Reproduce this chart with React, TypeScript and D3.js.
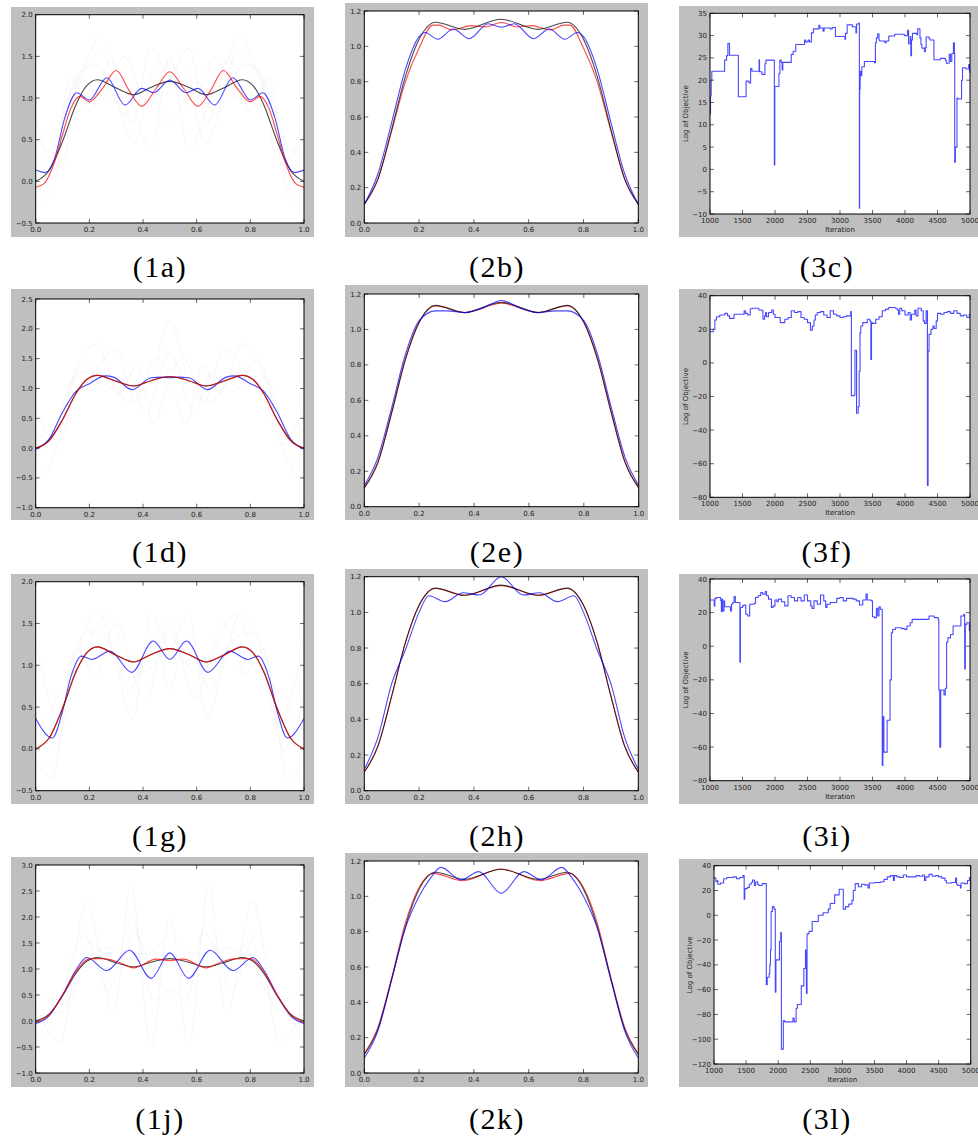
import React from "react";
import * as d3 from "d3";

type Pt = [number, number];

// ---------- Column 1: fitted profiles on [0, 1] ----------
const target1: Pt[] = [[0,0],[0.05,0.13],[0.1,0.48],[0.15,0.92],[0.19,1.15],[0.23,1.22],[0.3,1.12],[0.365,1.04],[0.43,1.13],[0.5,1.2],[0.57,1.13],[0.635,1.04],[0.7,1.12],[0.77,1.22],[0.81,1.15],[0.85,0.92],[0.9,0.48],[0.95,0.13],[1,0]];

const red1a: Pt[] = [[0,-0.07],[0.03,-0.03],[0.075,0.28],[0.1,0.56],[0.13,0.87],[0.165,1.02],[0.2,0.955],[0.25,1.12],[0.3,1.33],[0.35,1.08],[0.395,0.9],[0.45,1.12],[0.5,1.315],[0.55,1.12],[0.605,0.9],[0.65,1.08],[0.7,1.33],[0.75,1.12],[0.8,0.955],[0.835,1.02],[0.87,0.87],[0.9,0.56],[0.925,0.28],[0.97,-0.03],[1,-0.07]];
const blue1a: Pt[] = [[0,0.135],[0.035,0.105],[0.07,0.27],[0.11,0.78],[0.153,1.064],[0.2,0.976],[0.265,1.244],[0.333,0.916],[0.395,1.116],[0.44,1.064],[0.5,1.216],[0.56,1.064],[0.605,1.116],[0.667,0.916],[0.735,1.244],[0.8,0.976],[0.847,1.064],[0.89,0.78],[0.93,0.27],[0.965,0.105],[1,0.135]];
const faint1a: Pt[][] = [
  [[0,0.75],[0.05,0.35],[0.12,1.0],[0.17,1.3],[0.24,1.75],[0.31,1.2],[0.36,0.7],[0.43,1.6],[0.5,1.25],[0.57,1.6],[0.64,0.7],[0.69,1.2],[0.76,1.75],[0.83,1.3],[0.88,1.0],[0.95,0.35],[1,0.75]],
  [[0,-0.3],[0.06,-0.15],[0.13,1.25],[0.2,0.85],[0.28,1.45],[0.36,0.9],[0.43,0.38],[0.5,1.5],[0.57,0.38],[0.64,0.9],[0.72,1.45],[0.8,0.85],[0.87,1.25],[0.94,-0.15],[1,-0.3]],
  [[0,0.3],[0.07,0.05],[0.14,1.2],[0.22,1.4],[0.3,0.95],[0.37,0.45],[0.44,1.35],[0.5,1.1],[0.56,1.35],[0.63,0.45],[0.7,0.95],[0.78,1.4],[0.86,1.2],[0.93,0.05],[1,0.3]],
  [[0,0],[0.08,0.3],[0.15,1.1],[0.25,1.55],[0.33,0.8],[0.4,1.2],[0.5,0.7],[0.6,1.2],[0.67,0.8],[0.75,1.55],[0.85,1.1],[0.92,0.3],[1,0]],
  [[0,0.5],[0.1,0.2],[0.16,1.25],[0.26,1.0],[0.33,1.5],[0.42,0.9],[0.5,1.45],[0.58,0.9],[0.67,1.5],[0.74,1.0],[0.84,1.25],[0.9,0.2],[1,0.5]],
];

const red1d: Pt[] = [[0,0],[0.05,0.12],[0.1,0.47],[0.15,0.91],[0.19,1.15],[0.23,1.22],[0.3,1.12],[0.365,1.04],[0.43,1.13],[0.5,1.2],[0.57,1.13],[0.635,1.04],[0.7,1.12],[0.77,1.22],[0.81,1.15],[0.85,0.91],[0.9,0.47],[0.95,0.12],[1,0]];
const blue1d: Pt[] = [[0,-0.02],[0.05,0.15],[0.1,0.6],[0.15,0.95],[0.2,1.08],[0.26,1.21],[0.29,1.19],[0.36,0.98],[0.43,1.18],[0.47,1.19],[0.5,1.18],[0.53,1.19],[0.57,1.18],[0.64,0.98],[0.71,1.19],[0.74,1.21],[0.8,1.08],[0.85,0.95],[0.9,0.6],[0.95,0.15],[1,-0.02]];
const faint1d: Pt[][] = [
  [[0,0.7],[0.06,0.2],[0.13,1.1],[0.2,1.3],[0.27,1.2],[0.35,0.75],[0.42,1.0],[0.5,2.15],[0.58,1.0],[0.65,0.75],[0.73,1.2],[0.8,1.3],[0.87,1.1],[0.94,0.2],[1,0.7]],
  [[0,-0.6],[0.07,-0.1],[0.14,1.2],[0.23,1.75],[0.31,0.9],[0.38,1.4],[0.44,0.4],[0.5,1.1],[0.56,0.4],[0.62,1.4],[0.69,0.9],[0.77,1.75],[0.86,1.2],[0.93,-0.1],[1,-0.6]],
  [[0,0.3],[0.08,0.05],[0.15,0.9],[0.22,1.3],[0.3,1.65],[0.37,0.8],[0.45,1.5],[0.5,1.3],[0.55,1.5],[0.63,0.8],[0.7,1.65],[0.78,1.3],[0.85,0.9],[0.92,0.05],[1,0.3]],
  [[0,-0.2],[0.1,0.6],[0.18,1.45],[0.26,0.95],[0.34,1.3],[0.41,0.6],[0.5,1.6],[0.59,0.6],[0.66,1.3],[0.74,0.95],[0.82,1.45],[0.9,0.6],[1,-0.2]],
];

const red1g: Pt[] = [[0,0],[0.05,0.13],[0.1,0.49],[0.15,0.93],[0.19,1.15],[0.23,1.22],[0.3,1.12],[0.365,1.04],[0.43,1.13],[0.5,1.2],[0.57,1.13],[0.635,1.04],[0.7,1.12],[0.77,1.22],[0.81,1.15],[0.85,0.93],[0.9,0.49],[0.95,0.13],[1,0]];
const blue1g: Pt[] = [[0,0.364],[0.062,0.13],[0.1,0.45],[0.13,0.85],[0.171,1.11],[0.209,1.07],[0.277,1.17],[0.358,0.915],[0.438,1.29],[0.5,1.07],[0.562,1.29],[0.642,0.915],[0.723,1.17],[0.791,1.07],[0.829,1.11],[0.87,0.85],[0.9,0.45],[0.938,0.13],[1,0.364]];
const faint1g: Pt[][] = [
  [[0,1.3],[0.05,0.6],[0.1,0.3],[0.17,1.3],[0.23,1.65],[0.3,1.0],[0.36,0.35],[0.43,1.6],[0.5,1.2],[0.57,1.6],[0.64,0.35],[0.7,1.0],[0.77,1.65],[0.83,1.3],[0.9,0.3],[0.95,0.6],[1,1.3]],
  [[0,-0.1],[0.06,-0.35],[0.13,1.0],[0.2,1.4],[0.28,1.25],[0.35,0.7],[0.44,1.35],[0.5,0.7],[0.56,1.35],[0.65,0.7],[0.72,1.25],[0.8,1.4],[0.87,1.0],[0.94,-0.35],[1,-0.1]],
  [[0,0.6],[0.08,0],[0.15,1.2],[0.22,0.9],[0.3,1.5],[0.38,0.9],[0.46,1.1],[0.5,1.45],[0.54,1.1],[0.62,0.9],[0.7,1.5],[0.78,0.9],[0.85,1.2],[0.92,0],[1,0.6]],
  [[0,0.2],[0.1,0.7],[0.18,1.1],[0.26,1.6],[0.33,1.2],[0.41,0.6],[0.5,1.55],[0.59,0.6],[0.67,1.2],[0.74,1.6],[0.82,1.1],[0.9,0.7],[1,0.2]],
];

const red1j: Pt[] = [[0,-0.03],[0.05,0.12],[0.1,0.5],[0.15,0.95],[0.2,1.2],[0.25,1.2],[0.3,1.15],[0.365,1.02],[0.45,1.19],[0.5,1.16],[0.55,1.19],[0.635,1.02],[0.7,1.15],[0.75,1.2],[0.8,1.2],[0.85,0.95],[0.9,0.5],[0.95,0.12],[1,-0.03]];
const blue1j: Pt[] = [[0,-0.05],[0.05,0.1],[0.1,0.5],[0.15,0.98],[0.19,1.22],[0.265,0.97],[0.35,1.36],[0.43,0.82],[0.5,1.31],[0.57,0.82],[0.65,1.36],[0.735,0.97],[0.81,1.22],[0.85,0.98],[0.9,0.5],[0.95,0.1],[1,-0.05]];
const faint1j: Pt[][] = [
  [[0,0.3],[0.09,-0.4],[0.19,2.3],[0.29,0.15],[0.355,2.6],[0.43,-0.5],[0.5,2.0],[0.57,-0.5],[0.645,2.6],[0.71,0.15],[0.81,2.3],[0.91,-0.4],[1,0.3]],
  [[0,-0.35],[0.08,0.3],[0.18,1.65],[0.27,0.6],[0.36,1.95],[0.44,0.4],[0.5,0.6],[0.56,0.4],[0.64,1.95],[0.73,0.6],[0.82,1.65],[0.92,0.3],[1,-0.35]],
  [[0,0.1],[0.1,0.2],[0.2,1.5],[0.3,1.1],[0.37,1.7],[0.45,0.9],[0.5,1.4],[0.55,0.9],[0.63,1.7],[0.7,1.1],[0.8,1.5],[0.9,0.2],[1,0.1]],
  [[0,0.5],[0.12,0.4],[0.2,1.25],[0.28,1.4],[0.36,1.3],[0.42,1.3],[0.5,1.6],[0.58,1.3],[0.64,1.3],[0.72,1.4],[0.8,1.25],[0.88,0.4],[1,0.5]],
];

// ---------- Column 2: smoothed profiles ----------
const target2: Pt[] = [[0,0.105],[0.05,0.25],[0.1,0.53],[0.15,0.83],[0.2,1.04],[0.26,1.136],[0.365,1.096],[0.5,1.153],[0.635,1.096],[0.74,1.136],[0.8,1.04],[0.85,0.83],[0.9,0.53],[0.95,0.25],[1,0.105]];

const red2b: Pt[] = [[0,0.11],[0.05,0.25],[0.1,0.52],[0.15,0.8],[0.2,0.99],[0.25,1.12],[0.27,1.12],[0.32,1.093],[0.39,1.117],[0.44,1.11],[0.5,1.135],[0.56,1.11],[0.61,1.117],[0.68,1.093],[0.73,1.12],[0.75,1.12],[0.8,0.99],[0.85,0.8],[0.9,0.52],[0.95,0.25],[1,0.11]];
const blue2b: Pt[] = [[0,0.105],[0.05,0.28],[0.1,0.57],[0.15,0.87],[0.2,1.055],[0.222,1.078],[0.268,1.04],[0.325,1.098],[0.383,1.043],[0.452,1.128],[0.5,1.108],[0.548,1.128],[0.617,1.043],[0.675,1.098],[0.732,1.04],[0.778,1.078],[0.8,1.055],[0.85,0.87],[0.9,0.57],[0.95,0.28],[1,0.105]];

const red2e: Pt[] = [[0,0.11],[0.05,0.255],[0.1,0.535],[0.15,0.835],[0.2,1.04],[0.26,1.132],[0.365,1.095],[0.5,1.148],[0.635,1.095],[0.74,1.132],[0.8,1.04],[0.85,0.835],[0.9,0.535],[0.95,0.255],[1,0.11]];
const blue2e: Pt[] = [[0,0.12],[0.05,0.28],[0.1,0.56],[0.15,0.86],[0.2,1.05],[0.26,1.105],[0.3,1.105],[0.37,1.095],[0.43,1.12],[0.5,1.163],[0.57,1.12],[0.63,1.095],[0.7,1.105],[0.74,1.105],[0.8,1.05],[0.85,0.86],[0.9,0.56],[0.95,0.28],[1,0.12]];

const red2h: Pt[] = [[0,0.105],[0.05,0.252],[0.1,0.532],[0.15,0.832],[0.2,1.04],[0.26,1.134],[0.365,1.096],[0.5,1.15],[0.635,1.096],[0.74,1.134],[0.8,1.04],[0.85,0.832],[0.9,0.532],[0.95,0.252],[1,0.105]];
const blue2h: Pt[] = [[0,0.12],[0.05,0.3],[0.1,0.6],[0.15,0.79],[0.2,1.0],[0.235,1.093],[0.295,1.06],[0.36,1.11],[0.42,1.097],[0.5,1.2],[0.58,1.097],[0.64,1.11],[0.705,1.06],[0.765,1.093],[0.8,1.0],[0.85,0.79],[0.9,0.6],[0.95,0.3],[1,0.12]];

const red2k: Pt[] = [[0,0.11],[0.05,0.26],[0.1,0.54],[0.15,0.85],[0.2,1.05],[0.25,1.13],[0.36,1.088],[0.5,1.155],[0.64,1.088],[0.75,1.13],[0.8,1.05],[0.85,0.85],[0.9,0.54],[0.95,0.26],[1,0.11]];
const blue2k: Pt[] = [[0,0.085],[0.05,0.24],[0.1,0.53],[0.15,0.82],[0.2,1.0],[0.24,1.1],[0.28,1.164],[0.353,1.093],[0.418,1.14],[0.5,1.017],[0.582,1.14],[0.647,1.093],[0.72,1.164],[0.76,1.1],[0.8,1.0],[0.85,0.82],[0.9,0.53],[0.95,0.24],[1,0.085]];

// ---------- Column 3: log objective per iteration (step traces) ----------
const obj3c: Pt[] = [[1000,12.5],[1008,16.5],[1018,20],[1028,22],[1225,24.5],[1255,25.5],[1275,28.3],[1300,25.6],[1436,16.3],[1555,19.8],[1600,19.4],[1625,22.6],[1645,22],[1755,24.6],[1762,21.9],[1800,21.3],[1845,23.7],[1860,24.5],[1990,1],[1997,18.6],[2060,21.5],[2075,24.5],[2095,24],[2110,22.3],[2120,24],[2250,25.8],[2280,26.5],[2320,28],[2455,29],[2470,28.6],[2510,29],[2530,28.6],[2560,30.6],[2590,31.5],[2675,32.3],[2690,31.7],[2740,31],[2755,31.7],[2850,31.5],[2880,31.8],[2930,29.8],[3075,29.2],[3085,30.5],[3110,32.4],[3190,32],[3245,30.6],[3255,32.6],[3290,32.8],[3298,-8.7],[3302,18],[3310,22],[3320,21],[3335,23],[3375,24.2],[3530,23.9],[3545,28.4],[3560,29.5],[3580,30.4],[3600,29],[3610,28.8],[3690,28.4],[3710,28.8],[3750,29.9],[3840,30.3],[3990,30],[4040,31.2],[4055,28.2],[4080,29.8],[4090,25.5],[4100,29],[4115,30.5],[4180,30.2],[4195,31.5],[4230,29.5],[4245,28],[4260,27.2],[4300,26.4],[4312,27.3],[4325,29.7],[4370,29.3],[4385,29],[4445,24.6],[4545,24.9],[4620,24.5],[4635,23.8],[4680,25.8],[4700,24.2],[4720,26],[4745,28.4],[4760,26],[4765,1.6],[4775,5],[4800,16],[4815,15.8],[4870,20],[4885,22.8],[4940,22.5],[4980,23.5],[4995,21.8],[5000,21.8]];
const obj3f: Pt[] = [[1000,18.5],[1050,20],[1075,25.5],[1100,27.5],[1150,28.5],[1230,29.5],[1270,28],[1300,26.5],[1370,29],[1525,31],[1545,29.5],[1580,28.5],[1620,32.2],[1650,32.5],[1750,31.5],[1800,31],[1815,26],[1840,28],[1855,30],[1870,27.5],[1900,30],[1950,31.5],[1975,29],[2000,27],[2080,24],[2150,26],[2200,27],[2250,31],[2300,30],[2350,30.5],[2400,27],[2450,26],[2500,24],[2545,19.5],[2575,22],[2600,25.5],[2620,28.5],[2650,30],[2700,30.5],[2750,28.5],[2800,27],[2850,31],[2900,29],[2950,28],[3000,27],[3050,27.5],[3100,28],[3165,30.5],[3175,-19.5],[3220,-19],[3230,7.5],[3255,-30],[3280,-26],[3295,-5],[3308,18],[3320,22],[3350,24],[3420,26],[3460,25],[3475,2],[3485,24],[3500,23.5],[3550,26],[3600,27.5],[3650,31],[3700,32],[3750,33],[3850,32.5],[3880,31.5],[3900,29],[3920,32.5],[3950,31],[4000,28.5],[4050,30],[4080,25.5],[4100,29],[4150,31.5],[4170,28],[4200,32.5],[4250,31],[4280,25],[4300,23.5],[4325,31],[4345,-73],[4355,7],[4370,17],[4400,20],[4430,22],[4450,20.5],[4480,25],[4500,29.5],[4550,29],[4600,30],[4650,30.5],[4700,29.5],[4750,31],[4800,29.5],[4850,28],[4900,28.5],[4950,27],[4990,29],[5000,28]];
const obj3i: Pt[] = [[1000,27.5],[1065,24],[1075,28.5],[1100,29],[1165,27],[1175,20.5],[1185,28],[1195,21],[1215,27],[1225,23.5],[1300,23.5],[1315,21],[1330,25],[1350,26],[1370,29.5],[1390,26],[1460,-9.5],[1468,23],[1500,24],[1520,24.5],[1550,19],[1580,18],[1610,25],[1680,25.5],[1700,29],[1740,30],[1780,32],[1810,31],[1850,32.5],[1870,30],[1900,28],[1945,23],[1970,24],[2000,27.5],[2030,26.5],[2050,28],[2100,26.5],[2150,24],[2200,30],[2250,29],[2300,27],[2350,29],[2400,27],[2450,30.5],[2500,27],[2550,24],[2570,22.5],[2600,27],[2650,25],[2700,30.5],[2750,27],[2780,23],[2800,25],[2850,26],[2950,28.5],[3000,29],[3050,27],[3100,28.5],[3200,28],[3250,27],[3300,24.5],[3350,27.5],[3400,31],[3420,27.5],[3480,27],[3500,17.5],[3530,17],[3560,22.5],[3580,18],[3600,23.5],[3620,22],[3650,-71],[3660,-42],[3675,-63],[3725,-44],[3770,-20],[3790,8],[3810,10],[3850,11],[3950,10.5],[4000,10],[4030,12],[4080,14],[4110,16],[4350,16],[4370,18],[4450,17],[4510,16],[4520,-26],[4535,-60],[4550,-26],[4600,-29],[4620,-25],[4640,2.5],[4660,5],[4700,7],[4740,12],[4850,12],[4860,18],[4905,19],[4918,-13.5],[4928,13],[4950,14],[4990,9.5],[5000,14]];
const obj3l: Pt[] = [[1000,30],[1030,27],[1050,28],[1060,25],[1100,26],[1150,29.5],[1200,30.5],[1300,31],[1350,29.5],[1400,30.5],[1450,32],[1470,13],[1480,21.5],[1520,22.5],[1550,25],[1580,26.5],[1600,28.5],[1630,24],[1650,27],[1680,25],[1700,24],[1750,25.5],[1815,-56],[1830,-50],[1860,-47],[1870,-40],[1880,-28],[1890,3],[1910,7],[1935,5],[1955,-62],[1965,-36],[2020,-21],[2040,-14],[2050,-108],[2080,-85],[2100,-86],[2230,-83],[2250,-86],[2280,-75],[2300,-72],[2360,-57],[2400,-43],[2425,-28],[2440,-63],[2450,-15],[2480,-13],[2530,-5],[2625,0],[2700,2],[2780,5],[2810,9.5],[2880,16.5],[2950,21],[3015,5],[3050,7],[3100,9],[3150,12],[3170,20],[3200,25.5],[3250,23],[3300,25],[3350,24.5],[3400,22],[3420,26],[3500,26.5],[3600,27],[3650,29],[3700,31],[3750,32],[3795,28],[3810,32],[3850,31],[3900,30.5],[3950,32.5],[4000,31],[4100,31],[4150,32],[4200,31.5],[4250,32.5],[4280,28],[4300,31],[4350,33],[4400,31.5],[4450,32],[4500,31],[4550,30],[4600,28],[4620,26],[4700,26.5],[4765,30],[4780,25],[4800,24],[4840,22],[4850,26],[4900,25.5],[4950,28],[4980,30.5],[4995,20],[5000,20]];

// ---------- Tick values ----------
const ticksUnit = [0, 0.2, 0.4, 0.6, 0.8, 1.0];
const ticksY1a = [-0.5, 0, 0.5, 1.0, 1.5, 2.0];
const ticksY1d = [-1.0, -0.5, 0, 0.5, 1.0, 1.5, 2.0, 2.5];
const ticksY1g = [-0.5, 0, 0.5, 1.0, 1.5, 2.0];
const ticksY1j = [-1.0, -0.5, 0, 0.5, 1.0, 1.5, 2.0, 2.5, 3.0];
const ticksY2 = [0, 0.2, 0.4, 0.6, 0.8, 1.0, 1.2];
const ticksIter = [1000, 1500, 2000, 2500, 3000, 3500, 4000, 4500, 5000];
const ticksY3c = [-10, -5, 0, 5, 10, 15, 20, 25, 30, 35];
const ticksY3f = [-80, -60, -40, -20, 0, 20, 40];
const ticksY3i = [-80, -60, -40, -20, 0, 20, 40];
const ticksY3l = [-120, -100, -80, -60, -40, -20, 0, 20, 40];

const captions = ["(1a)", "(2b)", "(3c)", "(1d)", "(2e)", "(3f)", "(1g)", "(2h)", "(3i)", "(1j)", "(2k)", "(3l)"];

// ---------- Styling / layout ----------
const GRAY = "#bfbfbf";
const BLUE = "#0000ff";
const RED = "#ff0000";
const BLACK = "#000000";

type Series = { pts: Pt[]; color: string; opacity: number; width: number; step?: boolean };
type PanelDef = {
  caption: string;
  box: [number, number, number, number];
  plot: [number, number, number, number];
  xDomain: [number, number];
  yDomain: [number, number];
  xTicks: number[];
  yTicks: number[];
  kind: "profile" | "trace";
  series: Series[];
  capX: number;
  capY: number;
};

const faintSeries = (list: Pt[][]): Series[] =>
  list.map((pts) => ({ pts, color: "#000", opacity: 0.028, width: 1.2 }));
const main = (pts: Pt[], color: string): Series => ({ pts, color, opacity: 0.72, width: 1.1 });
const trace = (pts: Pt[]): Series => ({ pts, color: BLUE, opacity: 0.72, width: 1.1, step: true });

const capCenters = [160, 497, 827];

const panels: PanelDef[] = [
  // row 1
  { caption: captions[0], box: [11, 7, 314, 237], plot: [35.7, 14.7, 304, 223], xDomain: [0, 1], yDomain: [-0.5, 2.0], xTicks: ticksUnit, yTicks: ticksY1a, kind: "profile",
    series: [...faintSeries(faint1a), main(target1, BLACK), main(blue1a, BLUE), main(red1a, RED)], capX: capCenters[0], capY: 277 },
  { caption: captions[1], box: [345, 3, 648, 237], plot: [364.3, 11, 638.3, 223], xDomain: [0, 1], yDomain: [0, 1.2], xTicks: ticksUnit, yTicks: ticksY2, kind: "profile",
    series: [main(red2b, RED), main(target2, BLACK), main(blue2b, BLUE)], capX: capCenters[1], capY: 277 },
  { caption: captions[2], box: [679, 6, 980, 237], plot: [710, 13.3, 970, 214], xDomain: [1000, 5000], yDomain: [-10, 35], xTicks: ticksIter, yTicks: ticksY3c, kind: "trace",
    series: [trace(obj3c)], capX: capCenters[2], capY: 277 },
  // row 2
  { caption: captions[3], box: [11, 289, 314, 520], plot: [35.7, 299, 304, 507.7], xDomain: [0, 1], yDomain: [-1.0, 2.5], xTicks: ticksUnit, yTicks: ticksY1d, kind: "profile",
    series: [...faintSeries(faint1d), main(blue1d, BLUE), main(target1, BLACK), main(red1d, RED)], capX: capCenters[0], capY: 562 },
  { caption: captions[4], box: [345, 285, 648, 520], plot: [364.3, 294, 638.7, 506.7], xDomain: [0, 1], yDomain: [0, 1.2], xTicks: ticksUnit, yTicks: ticksY2, kind: "profile",
    series: [main(red2e, RED), main(target2, BLACK), main(blue2e, BLUE)], capX: capCenters[1], capY: 562 },
  { caption: captions[5], box: [679, 289, 980, 520], plot: [710, 295.7, 970, 497.3], xDomain: [1000, 5000], yDomain: [-80, 40], xTicks: ticksIter, yTicks: ticksY3f, kind: "trace",
    series: [trace(obj3f)], capX: capCenters[2], capY: 562 },
  // row 3
  { caption: captions[6], box: [11, 574, 314, 804], plot: [35.7, 581.7, 304, 790.7], xDomain: [0, 1], yDomain: [-0.5, 2.0], xTicks: ticksUnit, yTicks: ticksY1g, kind: "profile",
    series: [...faintSeries(faint1g), main(blue1g, BLUE), main(target1, BLACK), main(red1g, RED)], capX: capCenters[0], capY: 846 },
  { caption: captions[7], box: [345, 569, 648, 804], plot: [364.3, 576.7, 638.3, 790.7], xDomain: [0, 1], yDomain: [0, 1.2], xTicks: ticksUnit, yTicks: ticksY2, kind: "profile",
    series: [main(red2h, RED), main(target2, BLACK), main(blue2h, BLUE)], capX: capCenters[1], capY: 846 },
  { caption: captions[8], box: [679, 574, 980, 804], plot: [710, 579, 970, 780.7], xDomain: [1000, 5000], yDomain: [-80, 40], xTicks: ticksIter, yTicks: ticksY3i, kind: "trace",
    series: [trace(obj3i)], capX: capCenters[2], capY: 846 },
  // row 4
  { caption: captions[9], box: [11, 857, 314, 1087], plot: [35.7, 865, 304, 1073], xDomain: [0, 1], yDomain: [-1.0, 3.0], xTicks: ticksUnit, yTicks: ticksY1j, kind: "profile",
    series: [...faintSeries(faint1j), main(target1, BLACK), main(blue1j, BLUE), main(red1j, RED)], capX: capCenters[0], capY: 1129 },
  { caption: captions[10], box: [345, 853, 648, 1087], plot: [364.3, 861, 638.3, 1073], xDomain: [0, 1], yDomain: [0, 1.2], xTicks: ticksUnit, yTicks: ticksY2, kind: "profile",
    series: [main(red2k, RED), main(target2, BLACK), main(blue2k, BLUE)], capX: capCenters[1], capY: 1129 },
  { caption: captions[11], box: [679, 859, 980, 1087], plot: [714, 865.7, 970.7, 1064], xDomain: [1000, 5000], yDomain: [-120, 40], xTicks: ticksIter, yTicks: ticksY3l, kind: "trace",
    series: [trace(obj3l)], capX: capCenters[2], capY: 1129 },
];

const fmtDec = d3.format(".1f");
const fmtInt = d3.format("d");
const TICK_FONT = "'DejaVu Sans', 'Bitstream Vera Sans', sans-serif";

function Panel({ p, idx }: { p: PanelDef; idx: number }) {
  const [x0, y0, x1, y1] = p.plot;
  const x = d3.scaleLinear().domain(p.xDomain).range([x0, x1]);
  const y = d3.scaleLinear().domain(p.yDomain).range([y1, y0]);
  const fmt = p.kind === "trace" ? fmtInt : fmtDec;
  const clipId = `clip-${idx}`;
  const tickLen = 4;

  const smooth = d3.line<Pt>().x((d) => x(d[0])).y((d) => y(d[1])).curve(d3.curveMonotoneX);
  const stepped = d3.line<Pt>().x((d) => x(d[0])).y((d) => y(d[1])).curve(d3.curveStepAfter);

  return (
    <g>
      <rect x={p.box[0]} y={p.box[1]} width={p.box[2] - p.box[0]} height={p.box[3] - p.box[1]} fill={GRAY} />
      <rect x={x0} y={y0} width={x1 - x0} height={y1 - y0} fill="#fff" />
      <clipPath id={clipId}>
        <rect x={x0} y={y0} width={x1 - x0} height={y1 - y0} />
      </clipPath>
      <g clipPath={`url(#${clipId})`}>
        {p.series.map((s, i) => (
          <path
            key={i}
            d={(s.step ? stepped : smooth)(s.pts) || ""}
            fill="none"
            stroke={s.color}
            strokeOpacity={s.opacity}
            strokeWidth={s.width}
            strokeLinejoin="round"
          />
        ))}
      </g>
      {/* inward ticks on all four sides */}
      <g stroke="#000" strokeWidth={0.6}>
        {p.xTicks.map((t) => (
          <g key={`xt${t}`}>
            <line x1={x(t)} x2={x(t)} y1={y1} y2={y1 - tickLen} />
            <line x1={x(t)} x2={x(t)} y1={y0} y2={y0 + tickLen} />
          </g>
        ))}
        {p.yTicks.map((t) => (
          <g key={`yt${t}`}>
            <line x1={x0} x2={x0 + tickLen} y1={y(t)} y2={y(t)} />
            <line x1={x1} x2={x1 - tickLen} y1={y(t)} y2={y(t)} />
          </g>
        ))}
      </g>
      <rect x={x0} y={y0} width={x1 - x0} height={y1 - y0} fill="none" stroke="#000" strokeWidth={1} />
      <g fontFamily={TICK_FONT} fontSize={7} fill="#222">
        {p.xTicks.map((t) => (
          <text key={`xl${t}`} x={x(t)} y={y1 + 9} textAnchor="middle">{fmt(t)}</text>
        ))}
        {p.yTicks.map((t) => (
          <text key={`yl${t}`} x={x0 - 3} y={y(t) + 2.5} textAnchor="end">{fmt(t)}</text>
        ))}
        {p.kind === "trace" && (
          <>
            <text x={(x0 + x1) / 2} y={y1 + 18} textAnchor="middle">Iteration</text>
            <text transform={`translate(${x0 - 22},${(y0 + y1) / 2}) rotate(-90)`} textAnchor="middle">Log of Objective</text>
          </>
        )}
      </g>
      <text x={p.capX} y={p.capY} textAnchor="middle" fontFamily="'Liberation Serif', 'Times New Roman', serif" fontSize={30} letterSpacing={1.5} fill="#000">
        {p.caption}
      </text>
    </g>
  );
}

export default function App() {
  return (
    <div style={{ position: "absolute", left: 0, top: 0 }}>
      <svg width={978} height={1136} viewBox="0 0 978 1136" style={{ display: "block", background: "#fff" }}>
        {panels.map((p, i) => (
          <Panel key={i} p={p} idx={i} />
        ))}
      </svg>
    </div>
  );
}
